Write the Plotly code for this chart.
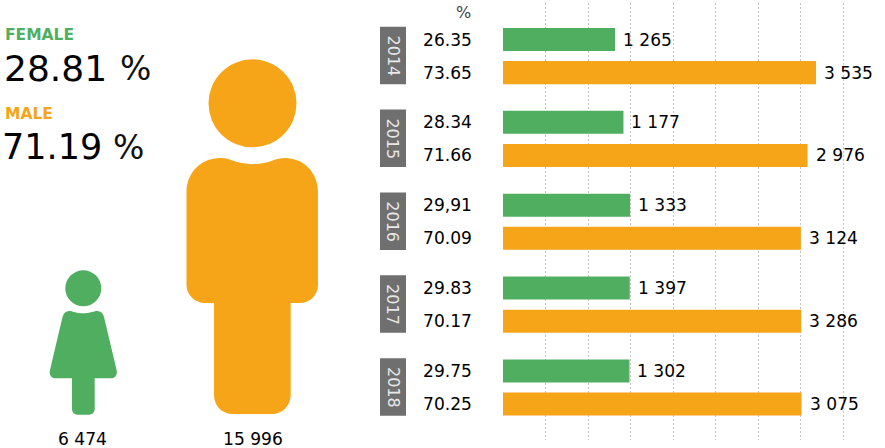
import plotly.graph_objects as go

years = ["2014", "2015", "2016", "2017", "2018"]
female_pct = [26.35, 28.34, 29.91, 29.83, 29.75]
male_pct = [73.65, 71.66, 70.09, 70.17, 70.25]
female_pct_labels = ["26.35", "28.34", "29,91", "29.83", "29.75"]
male_pct_labels = ["73.65", "71.66", "70.09", "70.17", "70.25"]
female_counts = ["1 265", "1 177", "1 333", "1 397", "1 302"]
male_counts = ["3 535", "2 976", "3 124", "3 286", "3 075"]
grid_ticks = [10, 20, 30, 40, 50, 60, 70, 80]

GREEN = "#50AE60"
ORANGE = "#F7A518"
GREY = "#6F6F6F"
FONT = "DejaVu Sans"
W, H = 885, 448
LABEL = 17.1

# rows: each year takes five row units, the male bar two rows below the female bar
f_y = [i * 5 for i in range(len(years))]
m_y = [i * 5 + 2 for i in range(len(years))]
UNIT = 16.57
TOP = 39.5

fig = go.Figure()
shapes = []
annotations = []
for y, x, counts, col in ((f_y, female_pct, female_counts, GREEN), (m_y, male_pct, male_counts, ORANGE)):
    fig.add_trace(go.Bar(
        y=y, x=x, orientation="h", width=1.39, marker=dict(color=col, line=dict(width=0)),
        hoverinfo="skip", showlegend=False,
    ))
    for yy, xx, c in zip(y, x, counts):
        annotations.append(dict(xref="x", yref="y", x=xx, y=yy, text=c, showarrow=False, xshift=6,
                                xanchor="left", yanchor="middle",
                                font=dict(family=FONT, size=LABEL, color="#000000")))

for i, yr in enumerate(years):
    shapes.append(dict(type="rect", xref="paper", yref="y", x0=380 / W, x1=406 / W,
                       y0=f_y[i] - 0.77, y1=m_y[i] + 0.7, fillcolor=GREY, line=dict(width=0), layer="above"))
    annotations.append(dict(xref="paper", yref="y", x=393 / W, y=(f_y[i] + m_y[i]) / 2 - 0.03, text=yr, textangle=90,
                            showarrow=False, font=dict(family=FONT, size=16, color="#E8E8E8"), xanchor="center", yanchor="middle"))
    for y, lab in ((f_y[i], female_pct_labels[i]), (m_y[i], male_pct_labels[i])):
        annotations.append(dict(xref="paper", yref="y", x=421 / W, y=y, text=lab, showarrow=False,
                                font=dict(family=FONT, size=LABEL, color="#000000"), xanchor="left", yanchor="middle"))


def txt(x, y, s, size, color="#000000", family=FONT, anchor="left"):
    annotations.append(dict(xref="x2", yref="y2", x=x, y=y, text=s, showarrow=False, xanchor=anchor, yanchor="middle",
                            font=dict(family=family, size=size, color=color)))


txt(463.5, 12, "%", 16, "#444444", anchor="center")
txt(3, 34.5, "<b>FEMALE</b>", 15.5, GREEN)
txt(2, 68, "28.81", 36)
txt(118, 68, "%", 33, "#111111")
txt(3, 114, "<b>MALE</b>", 15.5, ORANGE)
txt(0, 147, "71.19", 35)
txt(111, 147, "%", 33, "#111111")
txt(82.5, 439, "6 474", LABEL, anchor="center")
txt(252.5, 439, "15 996", LABEL, anchor="center")


def icon(path, color):
    shapes.append(dict(type="path", xref="x2", yref="y2", path=path, fillcolor=color, line=dict(width=0), layer="above"))


def circle(cx, cy, r, color):
    shapes.append(dict(type="circle", xref="x2", yref="y2", x0=cx - r, x1=cx + r, y0=cy - r, y1=cy + r,
                       fillcolor=color, line=dict(width=0), layer="above"))


# pictogram of the male figure
circle(252.5, 103.3, 44, ORANGE)
icon("M 186.5 192 C 186.5 172 202 158 220 158 C 226 158 229 159 231 160 C 245 165.5 260 165.5 274 160 "
     "C 277 159 280 158 285 158 C 303 158 318 172 318 192 L 318 285 C 318 295 310 303 300 303 L 290.7 303 "
     "L 290.7 395 C 290.7 406 282 414 272 414 L 233 414 C 222 414 214 406 214 395 L 214 303 L 205 303 "
     "C 195 303 186.5 295 186.5 285 Z", ORANGE)
# pictogram of the female figure
circle(83.3, 288.3, 18, GREEN)
icon("M 62.5 317 C 63.5 313 66 311 69 311 C 71 311 72 311.5 74 312 C 79 313.7 87 313.7 92 312 "
     "C 94 311.5 95.5 311 97.5 311 C 100.5 311 103 313 104 317 L 116.6 370 C 117.8 375 115 378.3 111 378.3 "
     "L 94.7 378.3 L 94.7 409 C 94.7 412.5 92 414.7 89 414.7 L 77.5 414.7 C 74.5 414.7 72 412.5 72 409 "
     "L 72 378.3 L 55.5 378.3 C 51.5 378.3 48.7 375 50 370 Z", GREEN)

fig.update_layout(
    width=W, height=H, margin=dict(l=0, r=0, t=0, b=0), paper_bgcolor="#FFFFFF", plot_bgcolor="rgba(0,0,0,0)",
    barmode="overlay", shapes=shapes, annotations=annotations,
    xaxis=dict(domain=[503 / W, 1], range=[0, (W - 503) / 4.25], tickvals=grid_ticks, showticklabels=False, ticks="",
               showgrid=True, gridcolor="#C4C4C4", griddash="2px,2px", gridwidth=1, zeroline=False, showline=False),
    yaxis=dict(domain=[8 / H, 1 - 3 / H], range=[(440 - TOP) / UNIT, (3 - TOP) / UNIT], showgrid=False, showticklabels=False,
               ticks="", zeroline=False, showline=False),
    xaxis2=dict(domain=[0, 1], range=[0, W], visible=False, anchor="y2"),
    yaxis2=dict(domain=[0, 1], range=[H, 0], visible=False, anchor="x2"),
)
# a transparent trace keeps the page-coordinate axes alive
fig.add_trace(go.Scatter(x=[0], y=[0], xaxis="x2", yaxis="y2", mode="markers", marker=dict(opacity=0), hoverinfo="skip", showlegend=False))
fig.write_html("out.html", config=dict(displayModeBar=False),
               post_script="document.body.style.margin='0';document.body.style.overflow='hidden';")
